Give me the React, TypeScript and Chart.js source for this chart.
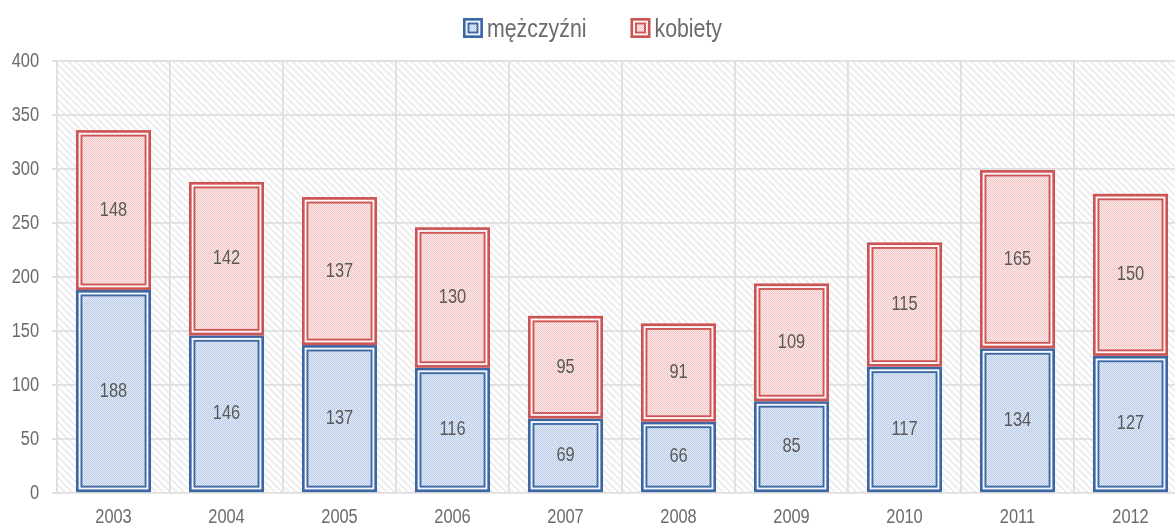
import React, { useEffect, useRef } from 'react';
import { Chart, registerables } from 'chart.js';

Chart.register(...registerables);

const years = ['2003', '2004', '2005', '2006', '2007', '2008', '2009', '2010', '2011', '2012'];
const men = [188, 146, 137, 116, 69, 66, 85, 117, 134, 127];
const women = [148, 142, 137, 130, 95, 91, 109, 115, 165, 150];
const seriesNames = ['mężczyźni', 'kobiety'];
const yTicks = [0, 50, 100, 150, 200, 250, 300, 350, 400];

const borderColors = ['#3d67a3', '#cd5455'];
const patternColors = [
  ['#b6c9e6', '#e6edf8'],
  ['#f3c3c3', '#fcebeb'],
];
const FONT = '"Liberation Sans", Arial, sans-serif';
const TEXT = '#6b6b6b';
const NARROW = 0.82;

function makeChecker(dark: string, light: string): CanvasPattern | string {
  const c = document.createElement('canvas');
  c.width = 2;
  c.height = 2;
  const x = c.getContext('2d');
  if (!x) return light;
  x.fillStyle = light;
  x.fillRect(0, 0, 2, 2);
  x.fillStyle = dark;
  x.fillRect(0, 0, 1, 1);
  x.fillRect(1, 1, 1, 1);
  return x.createPattern(c, 'repeat') || light;
}

function makeHatch(): CanvasPattern | string {
  const s = 7;
  const c = document.createElement('canvas');
  c.width = s;
  c.height = s;
  const x = c.getContext('2d');
  if (!x) return '#fff';
  x.fillStyle = '#ffffff';
  x.fillRect(0, 0, s, s);
  x.strokeStyle = '#eeeeee';
  x.lineWidth = 2;
  x.beginPath();
  x.moveTo(-1, -1);
  x.lineTo(s + 1, s + 1);
  x.moveTo(-1, s - 1);
  x.lineTo(1, s + 1);
  x.moveTo(s - 1, -1);
  x.lineTo(s + 1, 1);
  x.stroke();
  return x.createPattern(c, 'repeat') || '#fff';
}

function narrowText(
  ctx: CanvasRenderingContext2D,
  text: string,
  x: number,
  y: number,
  align: CanvasTextAlign,
  size: number,
  color: string,
  baseline: CanvasTextBaseline = 'middle'
) {
  ctx.save();
  ctx.font = `${size}px ${FONT}`;
  ctx.fillStyle = color;
  ctx.textAlign = align;
  ctx.textBaseline = baseline;
  ctx.translate(x, y);
  ctx.scale(NARROW, 1);
  ctx.fillText(text, 0, 0);
  ctx.restore();
}

function drawDoubleRect(
  ctx: CanvasRenderingContext2D,
  l: number,
  t: number,
  r: number,
  b: number,
  color: string,
  fill: CanvasPattern | string
) {
  ctx.save();
  ctx.fillStyle = fill;
  ctx.fillRect(l, t, r - l, b - t);
  ctx.strokeStyle = 'rgba(255,255,255,0.75)';
  ctx.lineWidth = 2;
  ctx.strokeRect(l + 3.6, t + 3.6, r - l - 7.2, b - t - 7.2);
  ctx.strokeStyle = color;
  ctx.lineWidth = 2.6;
  ctx.strokeRect(l + 1.3, t + 1.3, r - l - 2.6, b - t - 2.6);
  ctx.lineWidth = 1.8;
  ctx.strokeRect(l + 5.5, t + 5.5, r - l - 11, b - t - 11);
  ctx.restore();
}

export default function App() {
  const ref = useRef<HTMLCanvasElement | null>(null);

  useEffect(() => {
    if (!ref.current) return;
    const fills = patternColors.map(([d, l]) => makeChecker(d, l));
    const hatch = makeHatch();

    const bgPlugin = {
      id: 'hatchBg',
      beforeDraw(chart: any) {
        const { ctx, chartArea } = chart;
        ctx.save();
        ctx.fillStyle = hatch;
        ctx.fillRect(chartArea.left, chartArea.top, chartArea.right - chartArea.left, chartArea.bottom - chartArea.top);
        ctx.restore();
      },
    };

    const barPlugin = {
      id: 'doubleBars',
      afterDatasetsDraw(chart: any) {
        const ctx = chart.ctx as CanvasRenderingContext2D;
        chart.data.datasets.forEach((ds: any, di: number) => {
          const meta = chart.getDatasetMeta(di);
          meta.data.forEach((el: any, i: number) => {
            const p = el.getProps(['x', 'y', 'base', 'width'], true);
            const l = p.x - p.width / 2;
            const r = p.x + p.width / 2;
            const t = Math.min(p.y, p.base);
            const b = Math.max(p.y, p.base);
            drawDoubleRect(ctx, l, t, r, b, borderColors[di], fills[di]);
            narrowText(ctx, String(ds.data[i]), p.x, (t + b) / 2, 'center', 20, '#595959');
          });
        });
      },
    };

    const labelPlugin = {
      id: 'axisLabels',
      afterDraw(chart: any) {
        const ctx = chart.ctx as CanvasRenderingContext2D;
        const xs = chart.scales.x;
        const ys = chart.scales.y;
        const area = chart.chartArea;
        years.forEach((yr, i) => {
          narrowText(ctx, yr, xs.getPixelForValue(i), area.bottom + 24, 'center', 20, TEXT);
        });
        yTicks.forEach((v) => {
          narrowText(ctx, String(v), area.left - 18, ys.getPixelForValue(v), 'right', 20, TEXT);
        });
        // legend
        const size = 26;
        ctx.save();
        ctx.font = `${size}px ${FONT}`;
        const widths = seriesNames.map((n) => ctx.measureText(n).width * NARROW);
        ctx.restore();
        const box = 20;
        const gap = 4;
        const spacing = 44;
        const total = widths.reduce((a, w) => a + box + gap + w, 0) + spacing * (seriesNames.length - 1);
        let x = chart.width / 2 - total / 2 - 1.5;
        const top = 18;
        seriesNames.forEach((n, i) => {
          drawDoubleRect(ctx, x, top, x + box, top + box, borderColors[i], fills[i]);
          narrowText(ctx, n, x + box + gap, top + 19, 'left', size, TEXT, 'alphabetic');
          x += box + gap + widths[i] + spacing;
        });
      },
    };

    const chart = new Chart(ref.current, {
      type: 'bar',
      data: {
        labels: years,
        datasets: [
          { label: seriesNames[0], data: men, backgroundColor: 'rgba(0,0,0,0)', borderWidth: 0 },
          { label: seriesNames[1], data: women, backgroundColor: 'rgba(0,0,0,0)', borderWidth: 0 },
        ],
      },
      options: {
        animation: false,
        responsive: true,
        maintainAspectRatio: false,
        layout: { padding: { top: 61, right: 1, left: 0, bottom: 0 } },
        datasets: { bar: { categoryPercentage: 1, barPercentage: 0.664 } },
        plugins: {
          legend: { display: false },
          tooltip: { enabled: false },
        },
        scales: {
          x: {
            stacked: true,
            afterFit(scale: any) {
              scale.height = 36;
              scale.paddingLeft = 0;
              scale.paddingRight = 0;
            },
            grid: { color: '#dedede', lineWidth: 1.8, drawTicks: false, offset: true },
            border: { display: false },
            ticks: { display: false },
          },
          y: {
            stacked: true,
            min: 0,
            max: 400,
            afterFit(scale: any) {
              scale.width = 57;
              scale.paddingTop = 0;
              scale.paddingBottom = 0;
            },
            afterBuildTicks(scale: any) {
              scale.ticks = yTicks.map((v) => ({ value: v }));
            },
            grid: { color: '#dedede', lineWidth: 1.8, tickLength: 5, drawTicks: true },
            border: { display: false },
            ticks: { display: false },
          },
        },
      },
      plugins: [bgPlugin, barPlugin, labelPlugin],
    });
    return () => chart.destroy();
  }, []);

  return (
    <div style={{ position: 'fixed', left: 0, top: 0, width: 1188, height: 529 }}>
      <canvas ref={ref} />
    </div>
  );
}
